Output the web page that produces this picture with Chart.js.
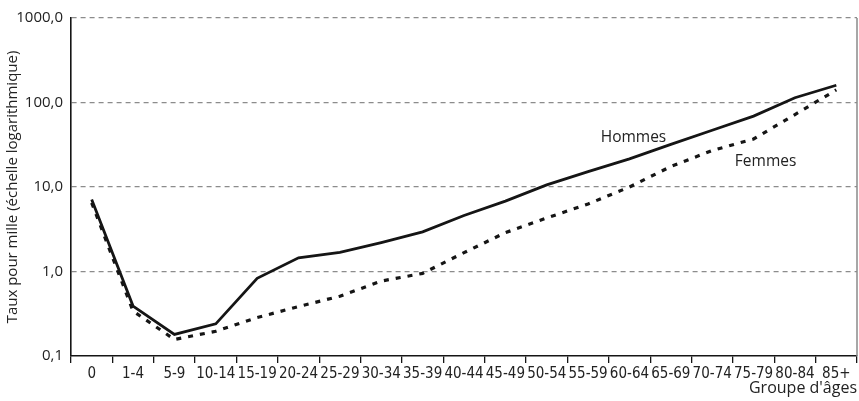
<!DOCTYPE html>
<html>
<head>
<meta charset="utf-8">
<script src="https://cdn.jsdelivr.net/npm/chart.js@4/dist/chart.umd.min.js"></script>
<style>
  html, body { margin: 0; padding: 0; background: #fff; }
  #wrap { width: 859px; height: 401px; position: relative; }
</style>
</head>
<body>
<div id="wrap"><canvas id="chart"></canvas></div>
<script>
// groupes d'âges
const ageGroups = ["0", "1-4", "5-9", "10-14", "15-19", "20-24", "25-29", "30-34", "35-39",
    "40-44", "45-49", "50-54", "55-59", "60-64", "65-69", "70-74", "75-79", "80-84", "85+"];

// taux pour mille
const hommes = [7.1, 0.39, 0.18, 0.24, 0.83, 1.45, 1.68, 2.2, 2.95, 4.6, 6.8, 10.6, 15.2,
    21.5, 32, 47, 69, 114, 160];
const femmes = [6.5, 0.34, 0.157, 0.196, 0.285, 0.385, 0.51, 0.77, 0.95, 1.67, 2.88, 4.3, 6.3,
    10, 17.5, 27, 37, 72, 141];

const yTicks = [0.1, 1, 10, 100, 1000];

// étiquettes des courbes: catégorie, valeur
const seriesNames = ["Hommes", "Femmes"];
const nameCategory = ["60-64", "75-79"];
const nameValue = [38, 20];

const TEXT = "#222";
const LINE = "#151515";
const tickFont = { family: "'Liberation Sans Narrow', 'DejaVu Sans Condensed', sans-serif", size: 15 };
const textFont = { family: "'Open Sans', sans-serif", size: 15 };

// cadre à droite + noms des séries
const extras = {
    id: "extras",
    afterDraw(chart) {
        const ctx = chart.ctx;
        const area = chart.chartArea;
        const xs = chart.scales.x;
        const ys = chart.scales.y;

        ctx.save();
        ctx.strokeStyle = "#8a8a8a";
        ctx.lineWidth = 1.5;
        ctx.beginPath();
        ctx.moveTo(area.right, area.top);
        ctx.lineTo(area.right, area.bottom);
        ctx.stroke();

        ctx.fillStyle = TEXT;
        ctx.font = "15.5px 'Open Sans', sans-serif";
        ctx.textAlign = "center";
        ctx.textBaseline = "middle";
        const nudge = [4, 12];
        seriesNames.forEach((name, i) => {
            const px = xs.getPixelForValue(ageGroups.indexOf(nameCategory[i])) + nudge[i];
            const py = ys.getPixelForValue(nameValue[i]);
            ctx.fillText(name, px, py);
        });
        ctx.restore();
    }
};

new Chart(document.getElementById("chart"), {
    type: "line",
    data: {
        labels: ageGroups,
        datasets: [
            {
                label: "Hommes",
                data: hommes,
                borderColor: LINE,
                borderWidth: 2.8,
                pointRadius: 0,
                tension: 0,
                fill: false
            },
            {
                label: "Femmes",
                data: femmes,
                borderColor: LINE,
                borderWidth: 3.2,
                borderDash: [5, 7],
                pointRadius: 0,
                tension: 0,
                fill: false
            }
        ]
    },
    options: {
        responsive: true,
        maintainAspectRatio: false,
        animation: false,
        events: [],
        layout: { padding: { top: 18, right: 2, left: 0, bottom: 0 } },
        plugins: {
            legend: { display: false },
            tooltip: { enabled: false }
        },
        scales: {
            x: {
                type: "category",
                offset: true,
                grid: {
                    offset: true,
                    drawOnChartArea: false,
                    drawTicks: true,
                    tickLength: 7,
                    color: LINE,
                    lineWidth: 1.3
                },
                border: { display: true, color: LINE, width: 1.6 },
                ticks: {
                    color: TEXT,
                    font: tickFont,
                    padding: 2,
                    maxRotation: 0,
                    autoSkip: false
                },
                title: {
                    display: true,
                    text: "Groupe d'âges",
                    align: "end",
                    color: TEXT,
                    font: { family: "'Open Sans', sans-serif", size: 16 },
                    padding: { top: 0, bottom: 3 }
                },
                afterFit(scale) { scale.height = 45; }
            },
            y: {
                type: "logarithmic",
                min: 0.1,
                max: 1000,
                afterBuildTicks(scale) {
                    scale.ticks = yTicks.map(v => ({ value: v }));
                },
                grid: {
                    drawTicks: false,
                    color: ctx => ctx.tick && ctx.tick.value === 0.1 ? "rgba(0,0,0,0)" : "#8c8c8c",
                    lineWidth: 1.2
                },
                border: { display: true, color: LINE, width: 1.6, dash: [5, 4] },
                ticks: {
                    color: TEXT,
                    font: textFont,
                    padding: 8,
                    callback: v => v.toFixed(1).replace(".", ",")
                },
                title: {
                    display: true,
                    text: "Taux pour mille (échelle logarithmique)",
                    color: TEXT,
                    font: textFont,
                    padding: { top: 4, bottom: 0 }
                },
                afterFit(scale) { scale.width = 71; }
            }
        }
    },
    plugins: [extras]
});
</script>
</body>
</html>
